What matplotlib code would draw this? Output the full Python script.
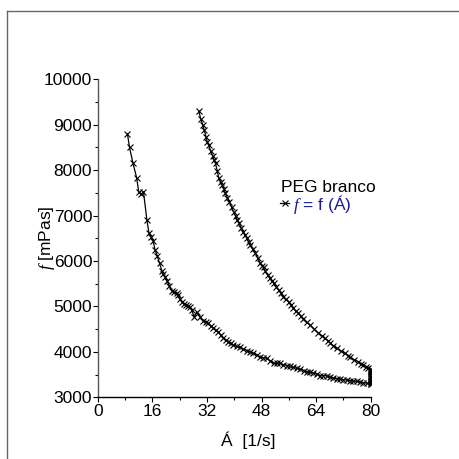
import numpy as np
import matplotlib
matplotlib.use('Agg')
import matplotlib.pyplot as plt
from matplotlib.lines import Line2D

plt.rcParams['font.family'] = ['Liberation Sans', 'DejaVu Sans']
plt.rcParams['mathtext.fontset'] = 'custom'
plt.rcParams['mathtext.rm'] = 'Liberation Sans'
plt.rcParams['mathtext.it'] = 'Liberation Serif:italic'

# upper branch (shear rate, viscosity)
up_x = [29.6, 30.2, 30.8, 31.2, 31.7, 32.1, 32.5, 33.1, 33.7, 34.1, 34.5, 35.0,
        35.5, 36.0, 36.5, 37.0, 37.4, 38.0, 38.6, 39.2, 39.8, 40.4, 40.9, 41.4,
        42.0, 42.7, 43.2, 43.7, 44.2, 44.7, 45.4, 46.2, 46.9, 47.6, 48.2, 48.6,
        49.1, 49.8, 50.4, 51.0, 51.6, 52.3, 53.0, 53.7, 54.4, 55.1, 55.9, 56.6,
        57.3, 58.0, 58.8, 59.5, 60.2, 61.2, 62.2, 63.4, 64.6, 65.6, 66.6, 67.4,
        68.1, 69.0, 70.0, 71.2, 72.5, 73.2, 73.9, 75.1, 76.4, 77.1, 77.8, 78.6,
        79.3, 80.0]
up_y = [9300, 9120, 8990, 8880, 8740, 8620, 8550, 8420, 8310, 8220, 8150, 7980,
        7820, 7740, 7670, 7580, 7490, 7390, 7300, 7190, 7080, 6990, 6910, 6830,
        6730, 6640, 6570, 6500, 6420, 6350, 6260, 6170, 6060, 5950, 5900, 5870,
        5770, 5690, 5620, 5560, 5510, 5430, 5360, 5290, 5210, 5160, 5100, 5030,
        4960, 4900, 4850, 4790, 4720, 4650, 4590, 4500, 4420, 4360, 4300, 4250,
        4200, 4140, 4080, 4020, 3970, 3920, 3880, 3830, 3780, 3740, 3710, 3670,
        3640, 3630]

# hold at maximum shear rate
hold_x = [80.0] * 11
hold_y = [3600, 3570, 3540, 3510, 3480, 3450, 3420, 3390, 3360, 3330, 3300]

# lower branch
down_x = [80.0, 78.8, 77.8, 76.8, 75.9, 74.9, 74.0, 73.0, 72.0, 71.0, 70.0, 69.0,
          68.0, 67.1, 66.1, 65.2, 64.2, 63.2, 62.3, 61.3, 60.3, 59.3, 58.3, 57.3,
          56.4, 55.4, 54.4, 53.4, 52.5, 51.5, 50.5, 49.5, 48.5, 47.5, 46.6, 45.6,
          44.6, 43.7, 42.7, 41.7, 40.7, 39.7, 39.0, 38.3, 37.5, 36.8, 36.0, 35.3,
          34.6, 33.9, 33.1, 32.4, 31.6, 30.9, 30.0, 29.0, 28.3, 27.5, 27.0, 26.5,
          25.9, 25.4, 24.7, 24.1, 23.5, 23.1, 22.4, 21.7, 21.0, 20.4, 19.8, 19.2,
          18.75, 18.1, 17.5, 16.8, 16.2, 15.6, 15.0, 14.4, 13.4, 12.8, 12.0, 11.4,
          10.3, 9.3, 8.7]
down_y = [3300, 3310, 3320, 3340, 3350, 3360, 3370, 3380, 3390, 3400, 3410, 3420,
          3450, 3470, 3480, 3480, 3510, 3530, 3550, 3560, 3590, 3620, 3640, 3660,
          3680, 3700, 3720, 3750, 3750, 3750, 3800, 3860, 3870, 3890, 3930, 3970,
          4000, 4030, 4060, 4100, 4120, 4150, 4190, 4220, 4260, 4300, 4370, 4440,
          4480, 4520, 4570, 4630, 4660, 4690, 4770, 4880, 4770, 4920, 4980, 5010,
          5030, 5050, 5100, 5160, 5260, 5300, 5320, 5340, 5450, 5550, 5640, 5710,
          5790, 5950, 6100, 6240, 6450, 6530, 6620, 6900, 7520, 7470, 7520, 7830,
          8160, 8500, 8800]

x_all = up_x + hold_x + down_x
y_all = up_y + hold_y + down_y

fig = plt.figure(figsize=(4.59, 4.59), dpi=100)
ax = fig.add_axes([0.213, 0.1344, 0.5948, 0.6928])

ax.plot(x_all, y_all, color='black', lw=0.9, marker='x', ms=4, mew=0.8)

ax.set_xlim(0, 80)
ax.set_ylim(3000, 10000)
ax.set_xticks([0, 16, 32, 48, 64, 80])
ax.set_xticks([8, 24, 40, 56, 72], minor=True)
ax.set_yticks(range(3000, 10001, 1000))
ax.set_yticks(range(3500, 10000, 1000), minor=True)
ax.tick_params(axis='both', which='major', labelsize=12.5, length=3.5, width=0.8, pad=1)
ax.tick_params(axis='both', which='minor', length=2.5, width=0.8)
ax.tick_params(axis='y', which='major', pad=0.5)
for s in ['top', 'right']:
    ax.spines[s].set_visible(False)
ax.spines['left'].set_color('#555555')
ax.spines['left'].set_linewidth(1.0)
ax.spines['bottom'].set_linewidth(1.0)

fig.text(248 / 459, 1 - 440 / 459, 'Á  [1/s]', fontsize=12.5, ha='center', va='center')
fig.text(47 / 459, 1 - 238 / 459, '$f$ [mPas]', fontsize=12.5, ha='center', va='center',
         rotation=90)

# legend
fig.text(281 / 459, 1 - 187 / 459, 'PEG branco', fontsize=12.5, ha='left', va='center')
fig.add_artist(Line2D([280 / 459, 289 / 459], [1 - 203 / 459] * 2, color='black', lw=0.9))
fig.add_artist(Line2D([284.5 / 459], [1 - 203 / 459], color='black', marker='x', ms=4, mew=0.8))
fig.text(293 / 459, 1 - 204 / 459, '$f$ = f (Á)', fontsize=12.5, ha='left', va='center',
         color='#1c1c96')

# outer frame
fig.add_artist(Line2D([7 / 459, 7 / 459], [0, 1 - 10.5 / 459], color='#666666', lw=1.0))
fig.add_artist(Line2D([7 / 459, 1], [1 - 10.5 / 459] * 2, color='#666666', lw=1.0))

fig.savefig('out.png', dpi=100)
